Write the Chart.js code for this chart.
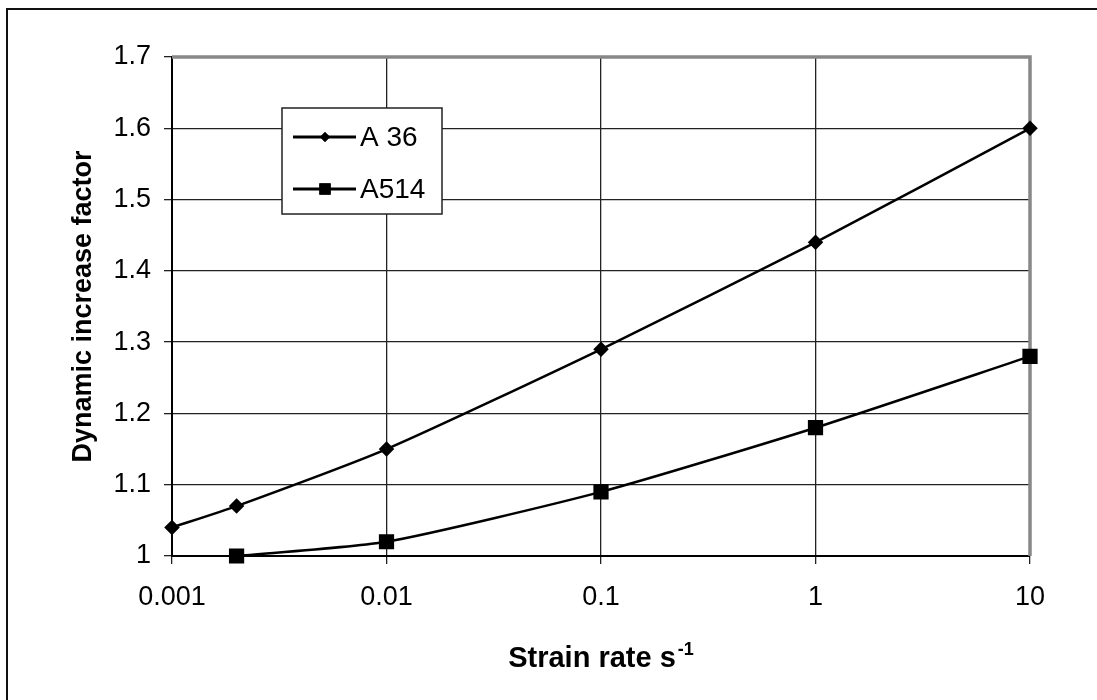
<!DOCTYPE html>
<html>
<head>
<meta charset="utf-8">
<script src="https://cdn.jsdelivr.net/npm/chart.js@4/dist/chart.umd.min.js"></script>
<style>
  body { margin: 0; background: #fff; }
  #wrap { width: 1097px; height: 700px; position: relative; }
</style>
</head>
<body>
<div id="wrap"><canvas id="difChart"></canvas></div>
<script>
// strain rate (1/s) and dynamic increase factor
const a36Rates = [0.001, 0.002, 0.01, 0.1, 1, 10];
const a36Dif = [1.04, 1.07, 1.15, 1.29, 1.44, 1.60];
const a514Rates = [0.002, 0.01, 0.1, 1, 10];
const a514Dif = [1.00, 1.02, 1.09, 1.18, 1.28];
const xTicks = [0.001, 0.01, 0.1, 1, 10];
const xTickLabels = ['0.001', '0.01', '0.1', '1', '10'];
const seriesNames = ['A 36', 'A514'];

const FONT = '"Liberation Sans", Arial, sans-serif';

// outer frame, gray plot border, axis titles and the legend box
const decorPlugin = {
    id: 'decor',
    beforeDraw(chart) {
        const ctx = chart.ctx;
        ctx.save();
        ctx.strokeStyle = '#111';
        ctx.lineWidth = 2;
        ctx.beginPath();
        ctx.moveTo(7, 700);
        ctx.lineTo(7, 9);
        ctx.lineTo(1097, 9);
        ctx.stroke();
        ctx.restore();
    },
    beforeDatasetsDraw(chart) {
        const ctx = chart.ctx;
        const a = chart.chartArea;
        ctx.save();
        ctx.strokeStyle = '#888';
        ctx.lineWidth = 3.5;
        ctx.beginPath();
        ctx.moveTo(a.left, a.top);
        ctx.lineTo(a.right, a.top);
        ctx.lineTo(a.right, a.bottom);
        ctx.stroke();
        ctx.restore();
    },
    afterDraw(chart) {
        const ctx = chart.ctx;
        const a = chart.chartArea;
        ctx.save();
        ctx.fillStyle = '#000';

        // y title
        ctx.font = 'bold 27px ' + FONT;
        ctx.textAlign = 'center';
        ctx.textBaseline = 'alphabetic';
        ctx.translate(91, (a.top + a.bottom) / 2);
        ctx.rotate(-Math.PI / 2);
        ctx.fillText('Dynamic increase factor', 0, 0);
        ctx.setTransform(1, 0, 0, 1, 0, 0);

        // x title with superscript
        const main = 'Strain rate s';
        const sup = '-1';
        ctx.font = 'bold 29px ' + FONT;
        const w1 = ctx.measureText(main).width;
        ctx.font = 'bold 18px ' + FONT;
        const w2 = ctx.measureText(sup).width;
        const x0 = (a.left + a.right) / 2 - (w1 + w2 + 2) / 2;
        ctx.textAlign = 'left';
        ctx.font = 'bold 29px ' + FONT;
        ctx.fillText(main, x0, 667);
        ctx.font = 'bold 18px ' + FONT;
        ctx.fillText(sup, x0 + w1 + 2, 655);

        // legend
        ctx.fillStyle = '#fff';
        ctx.fillRect(282, 108, 160, 106);
        ctx.strokeStyle = '#222';
        ctx.lineWidth = 1.5;
        ctx.strokeRect(282, 108, 160, 106);
        const rows = [137, 189];
        const styles = ['rectRot', 'rect'];
        const radii = [5, 8];
        ctx.font = '28px ' + FONT;
        ctx.textBaseline = 'middle';
        rows.forEach((y, i) => {
            ctx.strokeStyle = '#000';
            ctx.lineWidth = 3;
            ctx.beginPath();
            ctx.moveTo(293, y);
            ctx.lineTo(356, y);
            ctx.stroke();
            ctx.fillStyle = '#000';
            Chart.helpers.drawPoint(ctx, {pointStyle: styles[i], radius: radii[i], borderWidth: 0}, 325, y);
            ctx.fill();
            ctx.fillText(seriesNames[i], 360, y + 1);
        });
        ctx.restore();
    }
};

const ctx = document.getElementById('difChart').getContext('2d');
const difChart = new Chart(ctx, {
    type: 'line',
    data: {
        datasets: [
            {
                label: seriesNames[0],
                data: a36Rates.map((r, i) => ({x: r, y: a36Dif[i]})),
                borderColor: '#000',
                backgroundColor: '#000',
                borderWidth: 2.5,
                pointStyle: 'rectRot',
                pointRadius: 6,
                tension: 0.2,
                clip: false,
                fill: false
            },
            {
                label: seriesNames[1],
                data: a514Rates.map((r, i) => ({x: r, y: a514Dif[i]})),
                borderColor: '#000',
                backgroundColor: '#000',
                borderWidth: 2.5,
                pointStyle: 'rect',
                pointRadius: 9,
                tension: 0.2,
                clip: false,
                fill: false
            }
        ]
    },
    options: {
        responsive: true,
        maintainAspectRatio: false,
        animation: false,
        layout: {
            padding: {left: 0, top: 57, right: 67, bottom: 0}
        },
        plugins: {
            legend: { display: false },
            tooltip: { enabled: false }
        },
        scales: {
            x: {
                type: 'logarithmic',
                min: 0.001,
                max: 10,
                afterFit(scale) { scale.height = 144; },
                afterBuildTicks(scale) {
                    scale.ticks = xTicks.map(v => ({value: v}));
                },
                ticks: {
                    color: '#000',
                    font: {family: FONT, size: 27},
                    padding: 17,
                    maxRotation: 0,
                    autoSkip: false,
                    callback: (v) => xTickLabels[xTicks.indexOf(v)]
                },
                grid: {
                    color: '#222',
                    lineWidth: 1.3,
                    tickLength: 8,
                    drawTicks: true
                },
                border: { color: '#000', width: 2 }
            },
            y: {
                min: 1,
                max: 1.7,
                afterFit(scale) { scale.width = 172; },
                ticks: {
                    stepSize: 0.1,
                    color: '#000',
                    font: {family: FONT, size: 27},
                    padding: 13,
                    callback: (v) => String(Math.round(v * 10) / 10)
                },
                grid: {
                    color: '#222',
                    lineWidth: 1.3,
                    tickLength: 8,
                    drawTicks: true
                },
                border: { color: '#000', width: 2 }
            }
        }
    },
    plugins: [decorPlugin]
});
</script>
</body>
</html>
